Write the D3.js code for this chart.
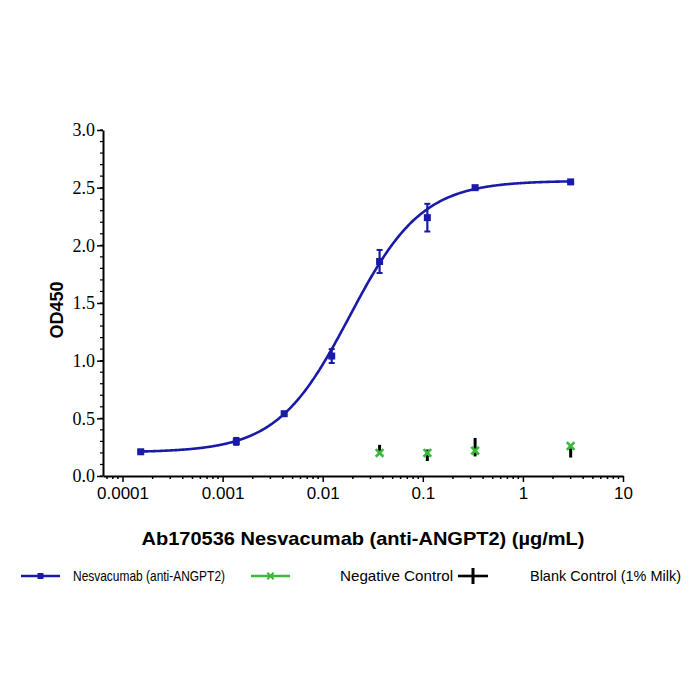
<!DOCTYPE html>
<html>
<head>
<meta charset="utf-8">
<script src="https://cdn.jsdelivr.net/npm/d3@7"></script>
<style>
  body { margin: 0; background: #fff; }
</style>
</head>
<body>
<div id="vis-container"></div>
<script>
var w = 700;
var h = 700;

// data
var concAb = [0.000152, 0.00137, 0.00412, 0.0123, 0.037, 0.111, 0.333, 3];
var odAb = [0.21, 0.30, 0.54, 1.04, 1.86, 2.24, 2.50, 2.55];
var sdAb = [0.01, 0.03, 0.01, 0.06, 0.10, 0.12, 0.01, 0.01];

var concCtrl = [0.037, 0.111, 0.333, 3];
var odNeg = [0.20, 0.20, 0.22, 0.26];
var odBlank = [0.23, 0.18, 0.25, 0.20];
var sdBlank = [0.04, 0.05, 0.08, 0.04];

// 4PL fit parameters (estimated from the curve)
var fitBottom = 0.205, fitTop = 2.56, fitEC50 = 0.0185, fitHill = 1.2;

var xTicks = [0.0001, 0.001, 0.01, 0.1, 1, 10];
var xTickLabels = ["0.0001", "0.001", "0.01", "0.1", "1", "10"];
var yTicks = [0, 0.5, 1.0, 1.5, 2.0, 2.5, 3.0];

var blue = "#1a1aa8", green = "#3cb83c", black = "#000";
var sans = "'Liberation Sans', Arial, sans-serif";
var serif = "'Liberation Serif', 'Times New Roman', serif";

var svg = d3.select("#vis-container").append("svg")
    .attr("width", w).attr("height", h);

var xScale = d3.scaleLog()
    .domain([Math.pow(10, -4.195), 10])
    .range([103, 623]);
var yScale = d3.scaleLinear()
    .domain([0, 3])
    .range([476, 130]);

// minor ticks x
var minorX = [];
for (var e = -5; e < 1; e++) {
    for (var m = 2; m <= 9; m++) {
        var v = m * Math.pow(10, e);
        if (v >= xScale.domain()[0] && v <= 10) minorX.push(v);
    }
}
svg.append("g").selectAll("line").data(minorX).enter().append("line")
    .attr("x1", function (d) { return xScale(d); })
    .attr("x2", function (d) { return xScale(d); })
    .attr("y1", 476).attr("y2", 479)
    .attr("stroke", "#000").attr("stroke-width", 1.5);

// x axis
var xAxis = d3.axisBottom(xScale).tickValues(xTicks)
    .tickFormat(function (d, i) { return xTickLabels[i]; })
    .tickSize(6).tickPadding(5).tickSizeOuter(0);
svg.append("g")
    .attr("transform", "translate(0,476)")
    .call(xAxis)
    .attr("font-family", sans).attr("font-size", 17)
    .call(function (g) {
        g.select(".domain").attr("stroke-width", 2);
        g.selectAll(".tick line").attr("stroke-width", 1.5);
        g.selectAll(".tick text").attr("fill", "#000");
    });

// minor ticks y
var minorY = d3.range(0, 3.0001, 0.1);
svg.append("g").selectAll("line").data(minorY).enter().append("line")
    .attr("x1", 100).attr("x2", 103)
    .attr("y1", function (d) { return yScale(d); })
    .attr("y2", function (d) { return yScale(d); })
    .attr("stroke", "#000").attr("stroke-width", 1.2);

// y axis
var yAxis = d3.axisLeft(yScale).tickValues(yTicks)
    .tickFormat(d3.format(".1f"))
    .tickSize(6).tickPadding(2).tickSizeOuter(0);
svg.append("g")
    .attr("transform", "translate(103,0)")
    .call(yAxis)
    .attr("font-family", serif).attr("font-size", 18)
    .call(function (g) {
        g.select(".domain").attr("stroke-width", 2);
        g.selectAll(".tick line").attr("stroke-width", 1.5);
        g.selectAll(".tick text").attr("fill", "#000");
    });

// axis titles
svg.append("text")
    .attr("transform", "translate(63,310) rotate(-90)")
    .attr("text-anchor", "middle")
    .style("font-family", sans)
    .style("font-weight", "bold").style("font-size", "18px")
    .text("OD450");
svg.append("text")
    .attr("x", 363).attr("y", 545)
    .attr("text-anchor", "middle")
    .attr("textLength", 443).attr("lengthAdjust", "spacingAndGlyphs")
    .style("font-family", sans)
    .style("font-weight", "bold").style("font-size", "19px")
    .text("Ab170536 Nesvacumab (anti-ANGPT2) (\u00b5g/mL)");

// fitted curve
function fourPL(x) {
    return fitBottom + (fitTop - fitBottom) / (1 + Math.pow(fitEC50 / x, fitHill));
}
var curveX = d3.range(-3.82, 0.48, 0.01).map(function (l) { return Math.pow(10, l); });
var line = d3.line()
    .x(function (d) { return xScale(d); })
    .y(function (d) { return yScale(fourPL(d)); })
    .curve(d3.curveBasis);
svg.append("path").datum(curveX)
    .attr("d", line)
    .attr("fill", "none").attr("stroke", blue).attr("stroke-width", 2.6);

// error bar helper
function errorBars(conc, mean, sd, color, cap, width) {
    var g = svg.append("g");
    conc.forEach(function (c, i) {
        var x = xScale(c), y1 = yScale(mean[i] - sd[i]), y2 = yScale(mean[i] + sd[i]);
        g.append("line").attr("x1", x).attr("x2", x).attr("y1", y1).attr("y2", y2)
            .attr("stroke", color).attr("stroke-width", width);
        if (cap > 0) {
            [y1, y2].forEach(function (yy) {
                g.append("line").attr("x1", x - cap).attr("x2", x + cap)
                    .attr("y1", yy).attr("y2", yy)
                    .attr("stroke", color).attr("stroke-width", 2);
            });
        }
    });
}

// blank control (black)
errorBars(concCtrl, odBlank, sdBlank, black, 0, 3);

// negative control (green crosses)
var cross = d3.symbol().type(d3.symbolX).size(40);
svg.append("g").selectAll("path").data(concCtrl).enter().append("path")
    .attr("d", cross)
    .attr("transform", function (d, i) {
        return "translate(" + xScale(d) + "," + yScale(odNeg[i]) + ")";
    })
    .attr("fill", "none").attr("stroke", green).attr("stroke-width", 2.6);

// antibody points
errorBars(concAb, odAb, sdAb, blue, 3, 2.2);
svg.append("g").selectAll("rect").data(concAb).enter().append("rect")
    .attr("x", function (d) { return xScale(d) - 3.5; })
    .attr("y", function (d, i) { return yScale(odAb[i]) - 3.5; })
    .attr("width", 7).attr("height", 7)
    .attr("fill", blue);

// legend
var legendNames = ["Nesvacumab (anti-ANGPT2)", "Negative Control", "Blank Control (1% Milk)"];
var legendLineX = [[21, 60], [251, 290], [458, 488]];
var legendTextX = [73, 340, 530];
var legendTextW = [152, 113, 151];
var legendY = 576;
var lg = svg.append("g");
legendNames.forEach(function (name, i) {
    var x0 = legendLineX[i][0], x1 = legendLineX[i][1];
    var col = [blue, green, black][i];
    lg.append("line").attr("x1", x0).attr("x2", x1)
        .attr("y1", legendY).attr("y2", legendY)
        .attr("stroke", col).attr("stroke-width", 2.6);
    var cx = (x0 + x1) / 2;
    if (i === 0) {
        lg.append("rect").attr("x", cx - 3).attr("y", legendY - 3)
            .attr("width", 6).attr("height", 6).attr("fill", col);
    } else if (i === 1) {
        lg.append("path").attr("d", d3.symbol().type(d3.symbolX).size(28))
            .attr("transform", "translate(" + cx + "," + legendY + ")")
            .attr("fill", "none").attr("stroke", col).attr("stroke-width", 2);
    } else {
        lg.append("line").attr("x1", cx).attr("x2", cx)
            .attr("y1", legendY - 8).attr("y2", legendY + 8)
            .attr("stroke", col).attr("stroke-width", 3);
    }
    lg.append("text").attr("x", legendTextX[i]).attr("y", legendY + 5)
        .attr("textLength", legendTextW[i]).attr("lengthAdjust", "spacingAndGlyphs")
        .style("font-family", sans)
        .style("font-size", "14.5px")
        .text(name);
});
</script>
</body>
</html>
